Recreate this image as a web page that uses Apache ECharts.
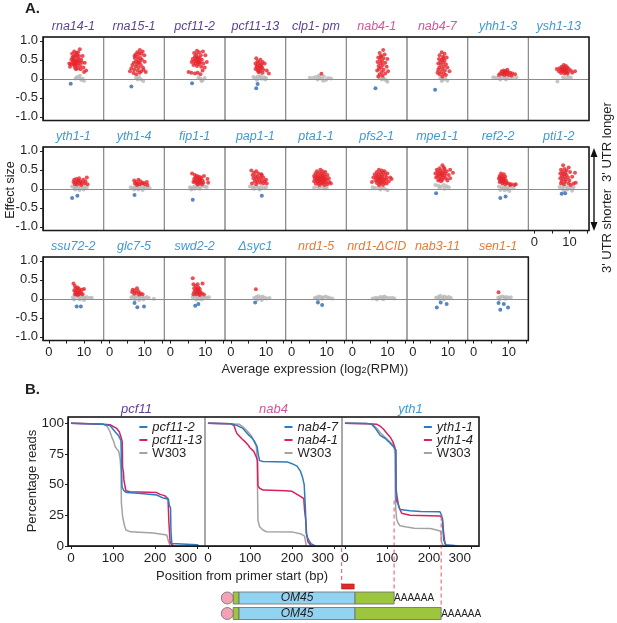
<!DOCTYPE html>
<html>
<head>
<meta charset="utf-8">
<script src="https://cdn.jsdelivr.net/npm/echarts@6/dist/echarts.min.js"></script>
<style>
  html, body { margin: 0; padding: 0; background: #fff; }
  #main { width: 617px; height: 623px; }
</style>
</head>
<body>
<div id="main"></div>
<script>
// ---- panel A: effect size vs average expression ----
var panelNames = ['rna14-1','rna15-1','pcf11-2','pcf11-13','clp1- pm','nab4-1','nab4-7','yhh1-3','ysh1-13',
  'yth1-1','yth1-4','fip1-1','pap1-1','pta1-1','pfs2-1','mpe1-1','ref2-2','pti1-2',
  'ssu72-2','glc7-5','swd2-2','Δsyc1','nrd1-5','nrd1-ΔCID','nab3-11','sen1-1'];
var panelGroup = ['p','p','p','p','p','m','m','b','b',
  'b','b','b','b','b','b','b','b','b',
  'b','b','b','b','o','o','o','o'];

// red = 3' UTR longer, gray = not significant, blue = shorter  [log2 RPM, effect size]
var redPts = [
  [[7.2,0.72],[7.8,0.68],[8.3,0.7],[6.6,0.66],[7.5,0.62],[8.8,0.78],[9.6,0.6],[7.0,0.58],[7.9,0.55],[8.5,0.52],[6.4,0.5],[7.3,0.48],[8.1,0.46],[9.2,0.5],[10.2,0.42],[6.8,0.44],[7.6,0.42],[8.4,0.4],[6.2,0.38],[7.1,0.36],[7.9,0.35],[8.9,0.34],[9.8,0.3],[6.0,0.32],[7.4,0.3],[8.2,0.28],[10.6,0.22],[7.7,0.25],[5.8,0.4],[6.7,0.56],[8.6,0.6],[9.4,0.42],[7.0,0.5],[7.8,0.45],[8.0,0.62],[6.9,0.4],[9.0,0.25],[10.0,0.18],[7.5,0.38],[8.7,0.45]],
  [[8.6,0.76],[9.4,0.72],[7.9,0.7],[8.4,0.66],[9.9,0.62],[7.4,0.64],[8.0,0.58],[8.8,0.55],[7.2,0.55],[9.2,0.5],[8.1,0.5],[7.5,0.46],[8.6,0.44],[6.9,0.42],[10.0,0.45],[7.8,0.38],[8.9,0.36],[6.5,0.36],[7.4,0.32],[8.3,0.3],[9.5,0.3],[6.2,0.28],[7.0,0.24],[8.0,0.22],[9.0,0.2],[10.3,0.18],[6.8,0.15],[7.6,0.12],[8.6,0.16],[5.8,0.2],[9.7,0.24],[8.2,0.42],[7.1,0.6],[9.0,0.66]],
  [[7.6,0.74],[8.2,0.7],[9.3,0.72],[6.8,0.68],[7.5,0.64],[8.7,0.62],[10.0,0.62],[7.0,0.58],[7.9,0.56],[8.4,0.54],[6.4,0.52],[7.3,0.5],[8.0,0.48],[9.0,0.5],[6.9,0.46],[7.7,0.44],[8.5,0.42],[6.1,0.44],[7.2,0.4],[8.1,0.38],[9.4,0.4],[10.4,0.44],[6.6,0.36],[7.6,0.34],[8.8,0.32],[9.8,0.3],[5.2,0.18],[6.0,0.16],[7.0,0.14],[7.8,0.16],[8.6,0.12],[9.2,0.22],[7.4,0.56],[8.3,0.44]],
  [[7.2,0.54],[8.4,0.5],[7.6,0.46],[9.0,0.44],[8.0,0.42],[7.0,0.4],[8.6,0.38],[7.5,0.36],[9.6,0.4],[8.1,0.34],[7.3,0.32],[8.8,0.3],[7.8,0.28],[8.4,0.26],[7.0,0.26],[9.2,0.24],[7.6,0.22],[8.2,0.2],[10.2,0.22],[9.0,0.16],[10.8,0.14],[7.9,0.17],[8.7,0.33]],
  [[8.5,0.13]],
  [[8.8,0.76],[7.8,0.68],[9.2,0.64],[8.3,0.6],[7.4,0.56],[8.9,0.54],[10.0,0.52],[7.9,0.5],[8.5,0.46],[7.2,0.44],[9.4,0.42],[8.0,0.4],[8.7,0.36],[7.5,0.34],[9.8,0.32],[8.2,0.3],[7.6,0.26],[8.9,0.24],[7.1,0.22],[8.4,0.18],[9.4,0.14],[7.8,0.12],[8.6,0.08],[7.4,0.06],[10.2,0.2],[8.1,0.58]],
  [[8.2,0.7],[9.0,0.66],[7.6,0.62],[8.6,0.58],[9.6,0.56],[7.4,0.52],[8.2,0.5],[9.0,0.48],[7.8,0.44],[8.6,0.42],[7.2,0.4],[9.4,0.38],[8.0,0.36],[8.8,0.32],[7.5,0.3],[9.8,0.3],[8.3,0.26],[7.2,0.24],[9.1,0.22],[8.0,0.18],[8.8,0.14],[7.6,0.12],[9.4,0.1],[8.4,0.06],[7.0,0.16],[10.4,0.2],[8.6,0.54]],
  [[8.0,0.2],[8.6,0.22],[9.2,0.2],[9.8,0.18],[8.4,0.16],[9.0,0.15],[10.4,0.16],[11.0,0.14],[7.6,0.14],[8.2,0.12],[8.8,0.1],[9.4,0.12],[10.0,0.1],[10.8,0.09],[11.8,0.12],[7.2,0.1],[9.6,0.24],[8.9,0.18]],
  [[8.4,0.36],[9.0,0.34],[7.8,0.32],[8.6,0.3],[9.4,0.3],[7.2,0.28],[8.0,0.27],[8.9,0.26],[9.8,0.26],[6.4,0.26],[7.6,0.24],[8.4,0.23],[9.2,0.22],[10.4,0.22],[11.6,0.2],[7.0,0.2],[8.0,0.19],[8.8,0.18],[9.6,0.17],[10.8,0.16],[7.6,0.15],[8.6,0.14],[9.4,0.13],[8.2,0.24]],
  [[7.2,0.24],[7.8,0.26],[8.4,0.22],[9.0,0.2],[9.8,0.24],[10.8,0.3],[7.0,0.18],[7.6,0.16],[8.2,0.18],[8.8,0.14],[9.4,0.16],[10.2,0.14],[11.0,0.12],[7.4,0.12],[8.0,0.11],[8.6,0.28],[9.2,0.1],[10.4,0.2]],
  [[7.0,0.22],[8.2,0.24],[8.8,0.2],[7.6,0.18],[9.6,0.16],[10.6,0.18],[7.2,0.14],[8.0,0.13],[8.6,0.12],[9.2,0.14],[10.0,0.12],[10.8,0.1],[7.8,0.1]],
  [[6.2,0.4],[7.0,0.36],[7.6,0.34],[8.2,0.32],[9.6,0.34],[7.2,0.3],[8.0,0.28],[8.6,0.26],[6.8,0.26],[7.6,0.24],[8.4,0.22],[9.2,0.22],[10.6,0.26],[7.0,0.2],[7.8,0.19],[8.6,0.17],[9.4,0.16],[7.4,0.15],[8.2,0.14],[9.0,0.12],[10.8,0.16],[7.8,0.11],[6.6,0.18],[8.8,0.3]],
  [[5.8,0.48],[7.2,0.46],[6.6,0.42],[7.8,0.4],[8.6,0.38],[6.2,0.36],[7.0,0.34],[7.6,0.32],[8.4,0.3],[9.2,0.3],[6.4,0.28],[7.2,0.26],[8.0,0.24],[8.8,0.22],[9.6,0.2],[6.8,0.2],[7.6,0.18],[8.4,0.16],[9.2,0.14],[10.2,0.14],[6.0,0.14],[7.2,0.12],[8.8,0.36],[10.0,0.24]],
  [[8.2,0.5],[7.2,0.46],[8.8,0.46],[9.6,0.44],[7.8,0.42],[8.5,0.4],[6.8,0.4],[9.2,0.38],[10.2,0.36],[7.4,0.36],[8.1,0.35],[8.8,0.34],[6.4,0.34],[9.6,0.32],[7.0,0.32],[7.7,0.3],[8.4,0.3],[9.1,0.29],[10.6,0.28],[6.6,0.28],[7.4,0.27],[8.1,0.26],[8.8,0.25],[9.5,0.25],[10.0,0.24],[7.0,0.24],[7.8,0.22],[8.5,0.21],[9.2,0.2],[10.8,0.18],[6.4,0.2],[7.4,0.19],[8.2,0.18],[9.0,0.16],[9.8,0.17],[11.2,0.14],[7.6,0.14],[8.6,0.13],[10.2,0.12],[8.0,0.1],[9.4,0.1],[6.9,0.13]],
  [[7.6,0.5],[8.4,0.48],[9.2,0.46],[7.0,0.44],[8.0,0.42],[8.8,0.42],[10.0,0.4],[6.4,0.38],[7.4,0.38],[8.4,0.36],[9.4,0.36],[7.0,0.34],[7.8,0.32],[8.6,0.32],[9.8,0.3],[10.8,0.3],[6.0,0.3],[6.8,0.29],[7.6,0.28],[8.2,0.27],[9.0,0.26],[9.6,0.24],[7.2,0.24],[8.0,0.22],[8.8,0.21],[10.4,0.2],[6.6,0.22],[7.6,0.19],[8.4,0.17],[9.2,0.16],[5.6,0.18],[7.0,0.15],[8.0,0.13],[9.8,0.14],[8.8,0.1],[7.6,0.1],[11.2,0.26]],
  [[8.4,0.62],[7.6,0.54],[9.0,0.52],[10.6,0.5],[6.8,0.5],[7.8,0.48],[8.6,0.46],[9.6,0.46],[7.0,0.44],[7.8,0.42],[8.4,0.4],[9.2,0.4],[11.4,0.42],[6.4,0.4],[7.4,0.38],[8.2,0.36],[9.0,0.35],[10.2,0.36],[7.0,0.34],[7.8,0.32],[8.6,0.3],[9.4,0.28],[6.6,0.3],[7.6,0.26],[8.4,0.24],[9.8,0.22],[8.0,0.2],[7.2,0.22],[10.6,0.28],[8.8,0.56]],
  [[7.8,0.4],[8.6,0.38],[7.4,0.34],[8.2,0.33],[9.0,0.32],[7.6,0.3],[8.4,0.28],[7.2,0.27],[8.0,0.26],[8.8,0.25],[7.6,0.23],[8.4,0.21],[9.2,0.22],[7.8,0.19],[8.6,0.17],[9.4,0.16],[10.0,0.14],[10.8,0.12],[11.6,0.1],[12.0,0.12],[9.0,0.12],[8.2,0.14],[7.4,0.18],[10.4,0.1]],
  [[8.2,0.62],[9.8,0.56],[8.6,0.52],[7.6,0.5],[9.2,0.48],[11.6,0.42],[8.0,0.44],[8.8,0.42],[10.2,0.44],[7.4,0.4],[8.4,0.38],[9.2,0.36],[7.8,0.34],[8.6,0.32],[9.6,0.3],[10.8,0.32],[7.4,0.28],[8.2,0.26],[9.0,0.24],[10.0,0.22],[7.8,0.2],[8.8,0.18],[9.8,0.14],[11.2,0.14],[8.4,0.12],[10.4,0.1],[7.6,0.14],[11.8,0.16]],
  [[7.0,0.4],[7.4,0.34],[8.2,0.3],[7.6,0.28],[8.6,0.26],[9.4,0.24],[10.0,0.26],[7.2,0.22],[8.0,0.22],[8.8,0.2],[7.6,0.18],[8.4,0.16],[9.2,0.15],[7.8,0.13],[8.6,0.12],[9.6,0.12],[8.2,0.1],[7.4,0.12]],
  [[6.6,0.24],[7.8,0.28],[7.2,0.22],[8.2,0.2],[7.6,0.16],[8.8,0.14],[7.0,0.13],[8.4,0.11],[9.4,0.12],[6.4,0.18]],
  [[6.4,0.54],[6.6,0.38],[7.8,0.38],[9.2,0.4],[7.2,0.34],[8.0,0.3],[6.8,0.28],[7.6,0.26],[8.4,0.26],[7.2,0.22],[8.0,0.2],[8.6,0.18],[6.8,0.18],[7.6,0.16],[9.0,0.14],[8.2,0.13],[6.6,0.12],[7.4,0.12],[9.6,0.11],[8.4,0.1],[7.8,0.24]],
  [[7.1,0.25]],
  [],
  [],
  [],
  [[7.1,0.17]]
];
var grayPts = [
  [[8.0,0.05],[8.6,0.02],[9.2,-0.03],[10.0,-0.05],[8.8,0.08],[9.6,0.0],[7.6,0.01]],
  [[7.5,0.02],[8.4,0.05],[9.0,-0.02],[9.6,-0.06],[8.0,-0.02]],
  [[8.0,0.03],[8.6,0.0],[9.2,-0.04],[9.8,0.02],[8.9,-0.06]],
  [[6.4,0.05],[7.0,0.02],[7.6,0.06],[8.2,0.03],[8.8,0.0],[9.4,0.04],[10.0,0.02],[7.4,-0.03],[8.5,0.08],[9.8,-0.02]],
  [[5.2,0.03],[6.1,0.02],[6.8,0.05],[7.4,-0.02],[8.0,0.04],[8.6,0.0],[9.2,0.06],[9.8,-0.03],[10.4,0.02],[11.2,0.01],[7.7,0.08],[9.0,-0.05]],
  [[7.8,0.02],[8.4,-0.02],[9.0,0.0],[9.6,-0.04],[10.0,-0.08],[8.8,0.04]],
  [[7.8,0.02],[8.6,-0.02],[9.2,0.01],[9.8,-0.05],[8.2,-0.06]],
  [[5.6,0.04],[6.4,0.03],[7.2,0.02],[8.0,0.04],[8.8,0.03],[9.6,0.02],[10.4,0.03],[11.2,0.02],[12.2,0.04],[7.6,-0.02],[9.2,-0.02]],
  [[6.6,-0.07],[8.2,0.04],[9.0,0.02],[9.8,0.05],[10.4,0.03]],
  [[6.6,0.06],[7.2,0.04],[7.8,0.02],[8.4,0.05],[9.0,0.03],[9.6,0.06],[10.2,0.02],[10.8,0.04],[7.5,-0.02],[8.7,-0.03],[9.9,-0.02]],
  [[6.0,0.04],[6.6,0.02],[7.2,0.05],[7.8,0.03],[8.4,0.06],[9.0,0.04],[9.6,0.02],[10.2,0.05],[10.8,0.03],[7.0,-0.02],[8.2,-0.02],[9.4,-0.03],[11.4,0.02]],
  [[5.6,0.04],[6.2,0.02],[6.8,0.06],[7.4,0.04],[8.0,0.07],[8.6,0.05],[9.2,0.08],[9.8,0.06],[10.4,0.05],[6.0,-0.02],[7.0,0.0],[8.4,0.0]],
  [[5.4,0.06],[6.2,0.04],[7.0,0.06],[7.8,0.03],[8.6,0.05],[9.4,0.02],[10.0,0.04],[6.6,0.0],[8.2,-0.02]],
  [[6.4,0.03],[7.4,0.05],[8.0,0.02],[9.0,0.04],[9.6,0.01],[10.0,0.03]],
  [[5.8,0.04],[6.6,0.02],[7.6,0.05],[8.4,0.03],[9.2,0.0],[10.0,-0.04],[8.0,-0.02]],
  [[6.4,0.1],[7.2,0.08],[8.0,0.06],[8.8,0.1],[9.6,0.07],[10.2,0.04],[7.6,0.02],[9.0,0.0]],
  [[7.2,0.06],[8.0,0.04],[8.6,0.02],[9.2,0.05],[9.8,0.03],[10.6,0.05],[11.4,0.02],[7.6,-0.03],[8.8,-0.04],[9.6,-0.02],[10.2,-0.06]],
  [[7.2,0.05],[8.0,0.02],[8.8,0.06],[9.6,0.04],[10.4,0.03],[11.2,0.05],[8.4,-0.04],[9.4,-0.02],[10.8,-0.05]],
  [[6.8,0.04],[7.6,0.06],[8.4,0.04],[9.0,0.07],[9.6,0.05],[10.2,0.03],[10.8,0.05],[11.6,0.02],[7.2,-0.02],[8.8,-0.02],[10.0,-0.03],[12.2,0.03]],
  [[6.2,0.04],[6.8,0.06],[7.4,0.05],[8.0,0.07],[8.6,0.04],[9.2,0.06],[9.8,0.03],[10.6,0.05],[11.2,0.02],[12.6,0.0],[7.2,-0.02],[8.4,-0.03],[9.6,-0.02]],
  [[6.4,0.04],[7.0,0.06],[7.8,0.05],[8.6,0.07],[9.2,0.04],[9.8,0.05],[10.4,0.03],[11.0,0.04],[7.4,-0.02],[8.2,0.0],[9.0,-0.02]],
  [[6.6,0.02],[7.2,0.05],[7.8,0.07],[8.4,0.04],[9.0,0.06],[9.6,0.03],[10.2,0.01],[11.0,0.02],[7.6,-0.02],[8.8,-0.03]],
  [[6.6,0.02],[7.2,0.04],[7.8,0.06],[8.4,0.05],[9.0,0.03],[9.6,0.06],[10.2,0.04],[10.8,0.02],[11.6,0.01],[7.5,-0.02],[8.7,0.0]],
  [[5.8,0.01],[6.6,0.03],[7.4,0.02],[8.0,0.05],[8.6,0.04],[9.2,0.06],[9.8,0.03],[10.6,0.02],[11.4,0.03],[12.0,0.01],[7.0,-0.02],[8.8,-0.01]],
  [[6.6,0.03],[7.2,0.05],[7.8,0.08],[8.4,0.04],[9.0,0.06],[9.6,0.03],[10.2,0.05],[10.8,0.02],[7.5,0.0],[8.8,-0.01]],
  [[7.0,0.03],[7.6,0.05],[8.2,0.06],[8.8,0.04],[9.4,0.05],[10.0,0.03],[10.6,0.04],[7.4,-0.01],[9.0,0.0]]
];
var bluePts = [
  [[6.2,-0.13]], [[6.2,-0.2]], [[6.2,-0.12]], [[7.6,-0.14],[7.2,-0.25]], [], [[6.6,-0.25]], [[6.3,-0.29]], [], [],
  [[6.6,-0.24],[8.1,-0.18]], [[7.1,-0.16]], [[6.4,-0.29]], [[8.8,-0.18]], [], [], [[6.6,-0.12]], [[7.6,-0.24],[9.1,-0.2]], [[7.8,-0.13],[8.8,-0.12]],
  [[7.9,-0.2],[9.1,-0.2]], [[7.1,-0.11],[7.9,-0.22],[9.8,-0.2]], [[7.1,-0.18],[8.0,-0.14]], [[6.9,-0.1]],
  [[7.5,-0.1],[8.7,-0.16]], [], [[6.8,-0.23],[7.9,-0.1],[9.6,-0.14]], [[7.1,-0.11],[7.6,-0.29],[8.6,-0.14],[9.8,-0.23]]
];
var effTicks = [-1, -0.5, 0, 0.5, 1];
var exprTicks = [0, 5, 10, 15];
var exprLabels = [0, 10];

// ---- panel B: cumulative read positions [bp, % reads] ----
var bTitles = ['pcf11', 'nab4', 'yth1'];
var bNames = [['pcf11-2', 'pcf11-13', 'W303'], ['nab4-7', 'nab4-1', 'W303'], ['yth1-1', 'yth1-4', 'W303']];
var pcf11_2 = [[0,100],[40,99.6],[77,99],[93,98],[105,93],[113,90],[119,86],[121,85],[121.5,48],[126,45],[132,43.5],[160,43],[204,41.5],[220,39],[232,38],[234,33],[237,31],[238,12],[240,2],[244,1.2],[300,1],[305,0]];
var pcf11_13 = [[0,100],[40,99.6],[77,99],[93,98.7],[108,96],[115,93],[119,89],[122,85],[123,64],[125,60],[126,54],[129,48],[131,45],[140,44.2],[204,43.5],[212,42],[223,41],[226,40],[231,38.5],[233,20],[236,3],[240,1],[246,0]];
var w303_a = [[0,100],[50,99.6],[77,99],[86,97.5],[93,93],[98,88],[102,85],[105,81],[109,79],[114,77],[117,71],[119,62],[120,35],[123,24],[127,17],[131,13],[142,11.5],[196,10.5],[228,9],[232,4],[236,0]];
var nab4_7 = [[0,100],[55,99.5],[70,98],[82,96],[90,93],[98,90],[106,87.5],[111,85],[117,81],[120,74],[123,69.5],[131,68.8],[190,68.3],[200,67],[212,65],[220,61],[225,56],[229,50],[232,30],[234,10],[238,6],[245,2],[255,0]];
var nab4_1 = [[0,100],[55,99.5],[62,98],[66,94],[69,91.5],[80,87.5],[88,85],[96,82],[100,80],[109,77],[115,72.5],[118,69.5],[119,49],[123,47],[131,45.5],[185,45],[200,44.5],[210,42.5],[222,40],[228,38.5],[230,29],[233,20],[235,9],[238,3.5],[246,0]];
var w303_b = [[0,100],[50,99.6],[75,99],[83,97],[95,93],[103,90],[111,84],[115,81],[117,71],[118,45],[119,21],[123,15.7],[131,13],[139,11.6],[202,11.3],[222,9.7],[230,8],[234,0]];
var yth1_1 = [[0,100],[53,99.8],[64,99],[72,96],[84,90],[96,87.5],[104,85],[112,82],[118,80],[121,78],[122,37],[126,34.7],[131,29.8],[155,28.7],[180,28],[226,27.9],[230,25],[232,20],[235,5],[240,1],[260,0.5],[268,0]];
var yth1_4 = [[0,100],[53,99.5],[76,99],[84,97.5],[92,95],[100,91.5],[108,88.5],[114,85],[118,81],[121,78],[121.5,47],[124,40],[128,32],[135,26.6],[155,25],[226,24.5],[232,22.7],[235,10],[238,2],[242,0]];
var w303_c = [[0,100],[50,99.8],[65,99],[75,96],[85,92],[97,88],[106,85],[113,83],[117,80],[119,75],[120,40],[121,30],[123,22],[126,19],[131,16.5],[147,15.5],[165,14.5],[203,14.2],[218,13],[228,12],[230,3],[235,0]];
var bCurves = [[pcf11_2, pcf11_13, w303_a], [nab4_7, nab4_1, w303_b], [yth1_1, yth1_4, w303_c]];
var pctTicks = [0, 25, 50, 75, 100];
var bpTicks = [0, 100, 200, 300];

// OM45 reporter drawn on the yth1 bp scale
var capPos = -280;
var utr5 = [-266, -252];
var cds = [-252, 24];
var primer = [-8, 22];
var polyAEnd = [117, 229];
var cutPos = [-8, 117, 229];
var cutTopPct = [0, 37, 24];

// ---- layout ----
var FONT = '"Liberation Sans", Arial, sans-serif';
var TXT = '#231f20';
var C_RED = '#e5262c', C_GRAY = '#b8b8b8', C_BLUE = '#2e68b3';
var L_COLORS = ['#2b7bc0', '#d9215d', '#a3a3a3'];
var groupColor = { p: '#5e3f98', m: '#d4559c', b: '#3b9ad6', o: '#ec7a2c' };
var A_LEFT = 43, A_W = 60.67, A_H = 83.6, A_TOPS = [37, 147, 257];
var B_LEFT = 68, B_W = 137, B_TOP = 417, B_H = 129;

var chart = echarts.init(document.getElementById('main'));
var grids = [], xAxes = [], yAxes = [], series = [], legends = [];

function txt(x, y, s, o) {
  o = o || {};
  return {
    type: 'text', x: x, y: y, rotation: o.rot || 0, silent: true, z: 50,
    style: {
      text: s, fill: o.color || TXT, fontFamily: FONT, fontSize: o.size || 13,
      fontStyle: o.italic ? 'italic' : 'normal', fontWeight: o.bold ? 'bold' : 'normal',
      align: o.align || 'center', verticalAlign: 'middle', rich: o.rich
    }
  };
}

for (var i = 0; i < panelNames.length; i++) {
  var row = i < 9 ? 0 : (i < 18 ? 1 : 2), col = i - row * 9;
  var showX = row === 2 || i === 17, showY = col === 0;
  grids.push({ left: A_LEFT + col * A_W, top: A_TOPS[row], width: A_W, height: A_H,
    show: true, borderColor: '#8c8c8c', borderWidth: 1, outerBoundsMode: 'none' });
  xAxes.push({ type: 'value', gridIndex: i, min: -1.7, max: 15.6,
    axisLine: { show: showX, onZero: false, lineStyle: { color: '#222' } },
    axisTick: { show: showX, customValues: exprTicks, length: 3, lineStyle: { color: '#222' } },
    axisLabel: { show: showX, customValues: exprLabels, fontSize: 13, color: TXT, fontFamily: FONT, margin: 5 },
    splitLine: { show: false } });
  yAxes.push({ type: 'value', gridIndex: i, min: -1.1, max: 1.1,
    axisLine: { show: showY, onZero: false, lineStyle: { color: '#222' } },
    axisTick: { show: showY, customValues: effTicks, length: 3, lineStyle: { color: '#222' } },
    axisLabel: { show: showY, customValues: effTicks, fontSize: 13, color: TXT, fontFamily: FONT, margin: 5,
      formatter: function (v) { return v === 0 ? '0' : v.toFixed(1); } },
    splitLine: { show: false } });
  series.push({ type: 'scatter', xAxisIndex: i, yAxisIndex: i, data: grayPts[i], symbolSize: 4,
    itemStyle: { color: C_GRAY }, silent: true,
    markLine: { silent: true, symbol: ['none', 'none'], label: { show: false },
      lineStyle: { color: '#8c8c8c', type: 'solid', width: 1 }, data: [{ yAxis: 0 }] } });
  series.push({ type: 'scatter', xAxisIndex: i, yAxisIndex: i, data: bluePts[i], symbolSize: 4,
    itemStyle: { color: C_BLUE }, silent: true });
  series.push({ type: 'scatter', xAxisIndex: i, yAxisIndex: i, data: redPts[i], symbolSize: 4,
    itemStyle: { color: C_RED }, silent: true });
}

var legendRight = [415, 279, 144];
for (var k = 0; k < 3; k++) {
  var g = panelNames.length + k;
  grids.push({ left: B_LEFT + k * B_W, top: B_TOP, width: B_W, height: B_H,
    show: true, borderColor: '#8c8c8c', borderWidth: 1, outerBoundsMode: 'none' });
  xAxes.push({ type: 'value', gridIndex: g, min: -7, max: 319,
    axisLine: { show: true, onZero: false, lineStyle: { color: '#222' } },
    axisTick: { show: true, customValues: bpTicks, length: 3, lineStyle: { color: '#222' } },
    axisLabel: { show: true, customValues: bpTicks, fontSize: 13.5, color: TXT, fontFamily: FONT, margin: 5,
      alignMaxLabel: 'right' },
    splitLine: { show: false } });
  yAxes.push({ type: 'value', gridIndex: g, min: 0, max: 105,
    axisLine: { show: k === 0, onZero: false, lineStyle: { color: '#222' } },
    axisTick: { show: k === 0, customValues: pctTicks, length: 3, lineStyle: { color: '#222' } },
    axisLabel: { show: k === 0, customValues: pctTicks, fontSize: 13.5, color: TXT, fontFamily: FONT, margin: 4 },
    splitLine: { show: false } });
  [2, 1, 0].forEach(function (j) {
    series.push({ type: 'line', name: bNames[k][j], xAxisIndex: g, yAxisIndex: g, data: bCurves[k][j],
      showSymbol: false, symbol: 'none', silent: true,
      lineStyle: { color: L_COLORS[j], width: 1.5 }, itemStyle: { color: L_COLORS[j] } });
  });
  legends.push({ data: bNames[k], orient: 'vertical', right: legendRight[k], top: 420.5, padding: 0,
    itemGap: 0, itemWidth: 8, itemHeight: 2, icon: 'rect', selectedMode: false,
    formatter: function (n) { return n === 'W303' ? '{n|W303}' : '{i|' + n + '}'; },
    textStyle: { fontSize: 13, lineHeight: 13, color: TXT, fontFamily: FONT,
      rich: { i: { fontStyle: 'italic', fontSize: 13, lineHeight: 13, color: TXT, fontFamily: FONT },
              n: { fontSize: 13, lineHeight: 13, color: TXT, fontFamily: FONT } } } });
}

chart.setOption({
  animation: false,
  backgroundColor: '#fff',
  grid: grids, xAxis: xAxes, yAxis: yAxes, series: series, legend: legends
});

// ---- annotations ----
var gfx = [];
gfx.push(txt(25, 9, 'A.', { size: 15, bold: true, align: 'left' }));
gfx.push(txt(25, 390, 'B.', { size: 15, bold: true, align: 'left' }));
for (var i = 0; i < panelNames.length; i++) {
  var row = i < 9 ? 0 : (i < 18 ? 1 : 2), col = i - row * 9;
  gfx.push(txt(A_LEFT + (col + 0.5) * A_W, A_TOPS[row] - 10, panelNames[i],
    { size: 12.5, italic: true, color: groupColor[panelGroup[i]] }));
}
[9, 9, 8].forEach(function (n, r) {
  gfx.push({ type: 'rect', silent: true, z: 60, shape: { x: A_LEFT, y: A_TOPS[r], width: n * A_W, height: A_H },
    style: { fill: 'none', stroke: '#1a1a1a', lineWidth: 1.5 } });
});
gfx.push({ type: 'rect', silent: true, z: 60, shape: { x: B_LEFT, y: B_TOP, width: 3 * B_W, height: B_H },
  style: { fill: 'none', stroke: '#1a1a1a', lineWidth: 1.5 } });
gfx.push(txt(11, 190, 'Effect size', { size: 12.5, rot: Math.PI / 2 }));
gfx.push(txt(32, 481, 'Percentage reads', { size: 13, rot: Math.PI / 2 }));
gfx.push(txt(315, 369, 'Average expression (log{s|2}(RPM))', { size: 13,
  rich: { s: { fontSize: 9, lineHeight: 9, verticalAlign: 'bottom', fontFamily: FONT, fill: TXT } } }));
gfx.push(txt(242, 576, 'Position from primer start (bp)', { size: 13 }));
gfx.push(txt(607, 142, "3' UTR longer", { size: 13, rot: Math.PI / 2 }));
gfx.push(txt(607, 231, "3' UTR shorter", { size: 13, rot: Math.PI / 2 }));
gfx.push({ type: 'line', silent: true, shape: { x1: 594, y1: 154, x2: 594, y2: 225 },
  style: { stroke: '#111', lineWidth: 1.4 } });
gfx.push({ type: 'polygon', silent: true, shape: { points: [[594, 148], [590.5, 157], [597.5, 157]] }, style: { fill: '#111' } });
gfx.push({ type: 'polygon', silent: true, shape: { points: [[594, 231], [590.5, 222], [597.5, 222]] }, style: { fill: '#111' } });
for (var k = 0; k < 3; k++) {
  gfx.push(txt(B_LEFT + (k + 0.5) * B_W, 409, bTitles[k], { size: 13, italic: true,
    color: groupColor[['p', 'm', 'b'][k]] }));
}

// reporter diagram, positioned with the yth1 axis
var gY = panelNames.length + 2;
function px(v) { return chart.convertToPixel({ xAxisIndex: gY }, v); }
function py(v) { return chart.convertToPixel({ yAxisIndex: gY }, v); }
var rowY = [592, 607.5], rowH = 12;
var dashBottom = [584, rowY[0], rowY[1]];
cutPos.forEach(function (c, j) {
  gfx.push({ type: 'line', silent: true, z: 40,
    shape: { x1: px(c), y1: py(cutTopPct[j]) + (j === 0 ? 2 : 0), x2: px(c), y2: dashBottom[j] },
    style: { stroke: '#ea6f7c', lineWidth: 1.2, lineDash: [4, 3] } });
});
gfx.push({ type: 'rect', silent: true, shape: { x: px(primer[0]), y: 584, width: px(primer[1]) - px(primer[0]), height: 5 },
  style: { fill: '#e32a2a', stroke: '#9a1c1c', lineWidth: 0.6 } });
rowY.forEach(function (y, r) {
  function box(a, b, fill) {
    return { type: 'rect', silent: true, shape: { x: px(a), y: y, width: px(b) - px(a), height: rowH },
      style: { fill: fill, stroke: '#6b6b6b', lineWidth: 0.8 } };
  }
  gfx.push(box(utr5[0], utr5[1], '#9cc63e'));
  gfx.push(box(cds[0], cds[1], '#93d3f2'));
  gfx.push(box(cds[1], polyAEnd[r], '#9cc63e'));
  gfx.push({ type: 'circle', silent: true, shape: { cx: px(capPos), cy: y + rowH / 2, r: 6 },
    style: { fill: '#f3a2b6', stroke: '#6b6b6b', lineWidth: 0.8 } });
  gfx.push(txt((px(cds[0]) + px(cds[1])) / 2, y + rowH / 2, 'OM45', { size: 12, italic: true }));
  gfx.push(txt(px(polyAEnd[r]), y + rowH / 2 + 0.5, 'AAAAAA', { size: 10, align: 'left' }));
});

chart.setOption({ graphic: { elements: gfx } });
</script>
</body>
</html>
